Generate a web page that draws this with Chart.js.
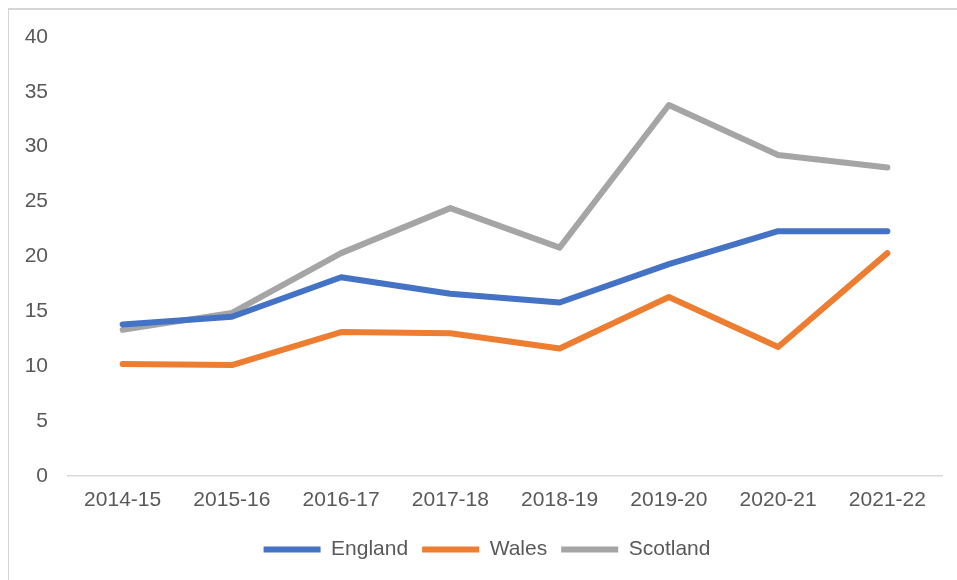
<!DOCTYPE html>
<html>
<head>
<meta charset="utf-8">
<script src="https://cdn.jsdelivr.net/npm/chart.js@4.4.1/dist/chart.umd.min.js"></script>
<style>
  html, body { margin: 0; padding: 0; background: #ffffff; }
  #wrap { position: relative; width: 957px; height: 580px; overflow: hidden; }
  #frame { position: absolute; left: 8px; top: 8px; width: 1000px; height: 600px;
           border-left: 1px solid #d6d6d6; border-top: 2px solid #d6d6d6; box-sizing: border-box; }
  canvas { position: absolute; left: 0; top: 0; }
</style>
</head>
<body>
<div id="wrap">
  <div id="frame"></div>
  <canvas id="c" width="957" height="580"></canvas>
</div>
<script>
const categories = ["2014-15", "2015-16", "2016-17", "2017-18", "2018-19", "2019-20", "2020-21", "2021-22"];
const england  = [13.8, 14.5, 18.1, 16.6, 15.8, 19.3, 22.3, 22.3];
const wales    = [10.2, 10.1, 13.1, 13.0, 11.6, 16.3, 11.75, 20.3];
const scotland = [13.3, 14.85, 20.3, 24.4, 20.8, 33.8, 29.25, 28.1];
const yTicks   = [0, 5, 10, 15, 20, 25, 30, 35, 40];

const FONT = "'Liberation Sans', Arial, sans-serif";
const TXT = "#595959";

function ds(label, data, color) {
  return {
    label, data,
    borderColor: color, backgroundColor: color,
    borderWidth: 6, pointRadius: 0, pointHoverRadius: 0,
    borderCapStyle: 'round', borderJoinStyle: 'round',
    tension: 0, fill: false
  };
}

// shift the legend block slightly right, as in the reference
const legendShift = {
  id: 'legendShift',
  afterLayout(chart) {
    if (chart.legend) { chart.legend.left += 12; chart.legend.right += 12; }
  }
};

new Chart(document.getElementById('c'), {
  type: 'line',
  data: {
    labels: categories,
    datasets: [
      ds("England", england, "#4472C4"),
      ds("Wales", wales, "#ED7D31"),
      ds("Scotland", scotland, "#A5A5A5")
    ]
  },
  plugins: [legendShift],
  options: {
    responsive: false,
    animation: false,
    layout: { padding: { left: 8, right: 15, top: 37, bottom: 10 } },
    plugins: {
      tooltip: { enabled: false },
      legend: {
        position: 'bottom',
        labels: {
          usePointStyle: true,
          pointStyle: 'line',
          pointStyleWidth: 57,
          boxHeight: 6,
          padding: 14,
          color: TXT,
          font: { family: FONT, size: 21 }
        }
      }
    },
    scales: {
      x: {
        offset: true,
        grid: { display: false, drawTicks: false },
        border: { display: true, color: "#d9d9d9", width: 1.5 },
        ticks: { color: TXT, font: { family: FONT, size: 21 }, padding: 12, maxRotation: 0 }
      },
      y: {
        min: 0, max: 40,
        afterFit: s => { s.width = 60; },
        afterBuildTicks: s => { s.ticks = yTicks.map(v => ({ value: v })); },
        grid: { display: false, drawTicks: false },
        border: { display: false },
        ticks: { color: TXT, font: { family: FONT, size: 21 }, padding: 20 }
      }
    }
  }
});
</script>
</body>
</html>
